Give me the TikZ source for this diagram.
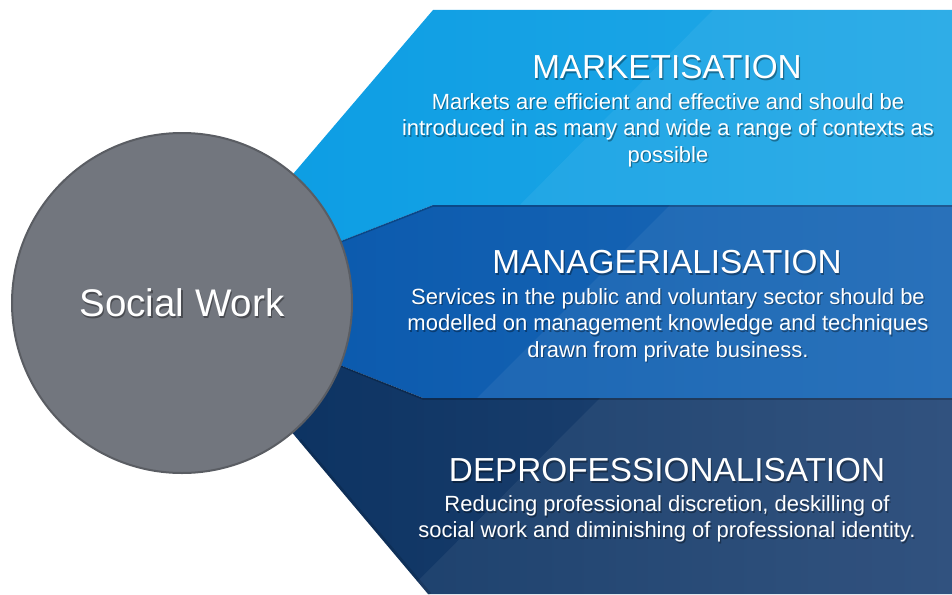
\documentclass[tikz,border=0pt]{standalone}
\usepackage{fontspec}
\setmainfont{Liberation Sans}
\definecolor{skyL}{HTML}{0A9CE3}
\definecolor{skyR}{HTML}{22A8E6}
\definecolor{midL}{HTML}{0857AC}
\definecolor{midR}{HTML}{1C69B6}
\definecolor{deepL}{HTML}{09305F}
\definecolor{deepR}{HTML}{254877}
\definecolor{hubfill}{HTML}{72767E}
\definecolor{hubedge}{HTML}{5A5D63}
% white text with a soft drop shadow
\newcommand{\shadowtext}[4]{%
  \node[#3, text=black, text opacity=0.35, xshift=1.2pt, yshift=-1.6pt] (#1-shadow) at #2 {#4};
  \node[#3] (#1) at #2 {#4};}
\begin{document}
\begin{tikzpicture}[x=1pt,y=-1pt,
  headline/.style={text=white, font=\fontsize{33.3}{36}\selectfont, inner sep=0pt},
  bodytext/.style={text=white, font=\fontsize{22}{26.5}\selectfont, align=center, inner sep=0pt},
  hubtext/.style={text=white, font=\fontsize{38.5}{42}\selectfont, inner sep=0pt},
  gloss/.style={fill=white, fill opacity=0.06},
  seam/.style={draw=black, draw opacity=0.22, line width=1.6pt}]
\useasboundingbox (0,0) rectangle (952,594);
\coordinate (apex) at (183,303);

% upper band
\shade[left color=skyL, right color=skyR] (apex) -- (433,10) -- (952,10) -- (952,205) -- (433,205) -- cycle;
\begin{scope}
  \clip (apex) -- (433,10) -- (952,10) -- (952,205) -- (433,205) -- cycle;
  \fill[gloss] (713,10) -- (952,10) -- (952,205) -- (520,205) -- cycle;
\end{scope}

% middle band
\shade[left color=midL, right color=midR] (apex) -- (433,205) -- (952,205) -- (952,398) -- (423,398) -- cycle;
\begin{scope}
  \clip (apex) -- (433,205) -- (952,205) -- (952,398) -- (423,398) -- cycle;
  \fill[gloss] (670,205) -- (952,205) -- (952,398) -- (477,398) -- cycle;
\end{scope}
\path[seam] (apex) -- (433,206) -- (952,206);

% lower band
\shade[left color=deepL, right color=deepR] (apex) -- (423,398) -- (952,398) -- (952,594) -- (428,594) -- cycle;
\begin{scope}
  \clip (apex) -- (423,398) -- (952,398) -- (952,594) -- (428,594) -- cycle;
  \fill[gloss] (600,398) -- (952,398) -- (952,594) -- (405,594) -- cycle;
\end{scope}
\path[seam] (apex) -- (423,399) -- (952,399);
\path[draw=black, draw opacity=0.12, line width=3pt] (300,440) -- (430,594);

% central circle
\node[circle, minimum size=340pt, fill=hubfill, draw=hubedge, line width=2pt] (hub) at (182,303) {};
\shadowtext{hubname}{(hub.center)}{hubtext}{Social Work}

% band texts
\shadowtext{t1}{(667,67)}{headline}{MARKETISATION}
\shadowtext{b1}{(668,130)}{bodytext}{Markets are efficient and effective and should be\\introduced in as many and wide a range of contexts as\\possible}

\shadowtext{t2}{(667,262)}{headline}{MANAGERIALISATION}
\shadowtext{b2}{(668,325)}{bodytext}{Services in the public and voluntary sector should be\\modelled on management knowledge and techniques\\drawn from private business.}

\shadowtext{t3}{(667,470)}{headline}{DEPROFESSIONALISATION}
\shadowtext{b3}{(667,519)}{bodytext}{Reducing professional discretion, deskilling of\\social work and diminishing of professional identity.}
\end{tikzpicture}
\end{document}
